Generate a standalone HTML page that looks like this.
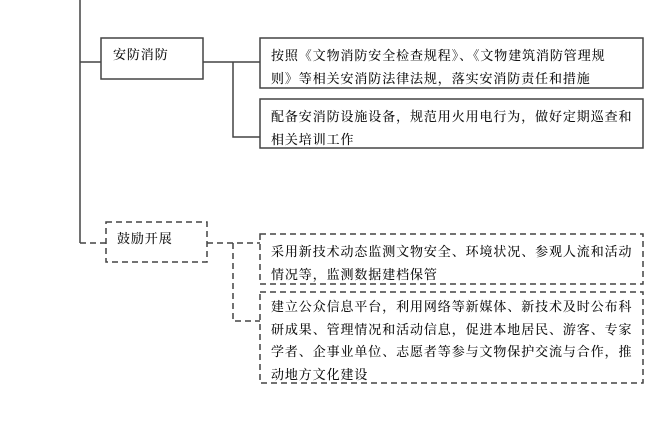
<!DOCTYPE html>
<html><head><meta charset="utf-8"><style>
body{margin:0;background:#fff;width:653px;height:436px;position:relative;overflow:hidden;font-family:"Noto Serif CJK SC","Liberation Serif",serif;color:#111}
.t{position:absolute;font-size:13px;letter-spacing:0.9px;line-height:23px;white-space:nowrap;font-weight:500}
svg{position:absolute;left:0;top:0}
</style></head><body>
<svg width="653" height="436" fill="none" stroke="#444" stroke-width="1.5">
<path d="M80 0V243M80 62H101M203 62H260M233 62V137H260"/>
<rect x="101" y="38" width="102" height="41"/>
<rect x="260" y="38" width="383" height="50"/>
<rect x="260" y="99" width="383" height="49"/>
<g stroke-dasharray="6,4">
<path d="M80 243H106M207 243H260M233 243V321H260"/>
<rect x="106" y="222" width="101" height="40"/>
<rect x="260" y="234" width="383" height="50"/>
<rect x="260" y="292" width="383" height="91"/>
</g>
</svg>
<div class="t" style="left:113px;top:42px">安防消防</div>
<div class="t" style="left:117px;top:226px">鼓励开展</div>
<div class="t" style="left:271px;top:43px">按照《文物消防安全检查规程》、《文物建筑消防管理规<br>则》等相关安消防法律法规，落实安消防责任和措施</div>
<div class="t" style="left:271px;top:104px">配备安消防设施设备，规范用火用电行为，做好定期巡查和<br>相关培训工作</div>
<div class="t" style="left:271px;top:239px">采用新技术动态监测文物安全、环境状况、参观人流和活动<br>情况等，监测数据建档保管</div>
<div class="t" style="left:271px;top:295px;line-height:22.5px">建立公众信息平台，利用网络等新媒体、新技术及时公布科<br>研成果、管理情况和活动信息，促进本地居民、游客、专家<br>学者、企事业单位、志愿者等参与文物保护交流与合作，推<br>动地方文化建设</div>
</body></html>
